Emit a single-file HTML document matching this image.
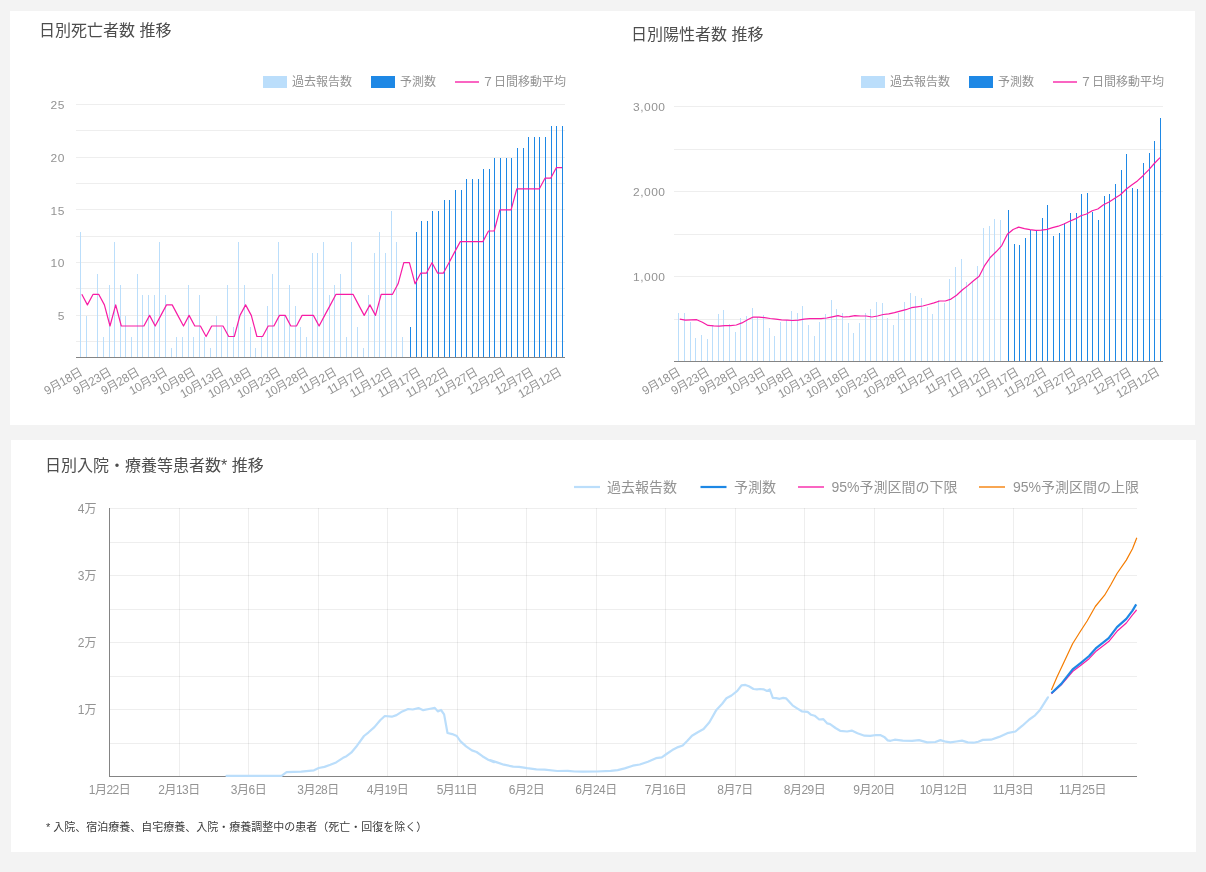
<!DOCTYPE html>
<html lang="ja"><head><meta charset="utf-8"><title>COVID-19 感染予測</title>
<style>
html,body{margin:0;padding:0}
body{width:1206px;height:872px;background:#f3f3f3;position:relative;overflow:hidden;font-family:"Liberation Sans","Noto Sans CJK JP",sans-serif}
.panel{position:absolute;background:#fff}
#g{position:absolute;left:0;top:0}
#lb{position:absolute;left:0;top:0;width:1206px;height:872px;will-change:transform}
.t{position:absolute;white-space:nowrap;line-height:14px;font-size:12px;color:#939393;font-family:"Liberation Sans","Noto Sans CJK JP",sans-serif}
.yl{text-align:right}
.yn{letter-spacing:.5px;transform:scaleY(.93);transform-origin:100% 50%}
.xr{transform-origin:100% 0;transform:rotate(-30deg);letter-spacing:-.5px}
.xc{width:100px;text-align:center;letter-spacing:-.5px}
.lg{font-size:12px}
.lg3{font-size:14px;line-height:16px}
.ti{font-size:16px;line-height:18px;color:#4d4d4d}
.ft{font-size:11px;line-height:13px;color:#3c3c3c}
</style></head><body>
<div class="panel" style="left:10px;top:11px;width:1185px;height:414px"></div>
<div class="panel" style="left:11px;top:440px;width:1185px;height:412px"></div>
<svg id="g" width="1206" height="872" viewBox="0 0 1206 872">
<rect x="76" y="104" width="489" height="1" fill="#000" fill-opacity=".067"/>
<rect x="76" y="130" width="489" height="1" fill="#000" fill-opacity=".067"/>
<rect x="76" y="157" width="489" height="1" fill="#000" fill-opacity=".067"/>
<rect x="76" y="183" width="489" height="1" fill="#000" fill-opacity=".067"/>
<rect x="76" y="209" width="489" height="1" fill="#000" fill-opacity=".067"/>
<rect x="76" y="236" width="489" height="1" fill="#000" fill-opacity=".067"/>
<rect x="76" y="262" width="489" height="1" fill="#000" fill-opacity=".067"/>
<rect x="76" y="288" width="489" height="1" fill="#000" fill-opacity=".067"/>
<rect x="76" y="315" width="489" height="1" fill="#000" fill-opacity=".067"/>
<rect x="76" y="341" width="489" height="1" fill="#000" fill-opacity=".067"/>
<rect x="80" y="232" width="1" height="125" fill="#bbdefb"/>
<rect x="86" y="316" width="1" height="41" fill="#bbdefb"/>
<rect x="97" y="274" width="1" height="83" fill="#bbdefb"/>
<rect x="103" y="337" width="1" height="20" fill="#bbdefb"/>
<rect x="109" y="285" width="1" height="72" fill="#bbdefb"/>
<rect x="114" y="242" width="1" height="115" fill="#bbdefb"/>
<rect x="120" y="285" width="1" height="72" fill="#bbdefb"/>
<rect x="125" y="316" width="1" height="41" fill="#bbdefb"/>
<rect x="131" y="337" width="1" height="20" fill="#bbdefb"/>
<rect x="137" y="274" width="1" height="83" fill="#bbdefb"/>
<rect x="142" y="295" width="1" height="62" fill="#bbdefb"/>
<rect x="148" y="295" width="1" height="62" fill="#bbdefb"/>
<rect x="154" y="295" width="1" height="62" fill="#bbdefb"/>
<rect x="159" y="242" width="1" height="115" fill="#bbdefb"/>
<rect x="165" y="295" width="1" height="62" fill="#bbdefb"/>
<rect x="171" y="348" width="1" height="9" fill="#bbdefb"/>
<rect x="176" y="337" width="1" height="20" fill="#bbdefb"/>
<rect x="182" y="337" width="1" height="20" fill="#bbdefb"/>
<rect x="188" y="285" width="1" height="72" fill="#bbdefb"/>
<rect x="193" y="337" width="1" height="20" fill="#bbdefb"/>
<rect x="199" y="295" width="1" height="62" fill="#bbdefb"/>
<rect x="204" y="337" width="1" height="20" fill="#bbdefb"/>
<rect x="210" y="348" width="1" height="9" fill="#bbdefb"/>
<rect x="216" y="316" width="1" height="41" fill="#bbdefb"/>
<rect x="221" y="327" width="1" height="30" fill="#bbdefb"/>
<rect x="227" y="285" width="1" height="72" fill="#bbdefb"/>
<rect x="233" y="327" width="1" height="30" fill="#bbdefb"/>
<rect x="238" y="242" width="1" height="115" fill="#bbdefb"/>
<rect x="244" y="285" width="1" height="72" fill="#bbdefb"/>
<rect x="250" y="327" width="1" height="30" fill="#bbdefb"/>
<rect x="255" y="348" width="1" height="9" fill="#bbdefb"/>
<rect x="261" y="337" width="1" height="20" fill="#bbdefb"/>
<rect x="267" y="306" width="1" height="51" fill="#bbdefb"/>
<rect x="272" y="274" width="1" height="83" fill="#bbdefb"/>
<rect x="278" y="242" width="1" height="115" fill="#bbdefb"/>
<rect x="284" y="316" width="1" height="41" fill="#bbdefb"/>
<rect x="289" y="285" width="1" height="72" fill="#bbdefb"/>
<rect x="295" y="306" width="1" height="51" fill="#bbdefb"/>
<rect x="300" y="327" width="1" height="30" fill="#bbdefb"/>
<rect x="306" y="337" width="1" height="20" fill="#bbdefb"/>
<rect x="312" y="253" width="1" height="104" fill="#bbdefb"/>
<rect x="317" y="253" width="1" height="104" fill="#bbdefb"/>
<rect x="323" y="242" width="1" height="115" fill="#bbdefb"/>
<rect x="329" y="295" width="1" height="62" fill="#bbdefb"/>
<rect x="334" y="285" width="1" height="72" fill="#bbdefb"/>
<rect x="340" y="274" width="1" height="83" fill="#bbdefb"/>
<rect x="346" y="337" width="1" height="20" fill="#bbdefb"/>
<rect x="351" y="242" width="1" height="115" fill="#bbdefb"/>
<rect x="357" y="327" width="1" height="30" fill="#bbdefb"/>
<rect x="363" y="348" width="1" height="9" fill="#bbdefb"/>
<rect x="368" y="295" width="1" height="62" fill="#bbdefb"/>
<rect x="374" y="253" width="1" height="104" fill="#bbdefb"/>
<rect x="379" y="232" width="1" height="125" fill="#bbdefb"/>
<rect x="385" y="253" width="1" height="104" fill="#bbdefb"/>
<rect x="391" y="211" width="1" height="146" fill="#bbdefb"/>
<rect x="396" y="242" width="1" height="115" fill="#bbdefb"/>
<rect x="402" y="337" width="1" height="20" fill="#bbdefb"/>
<rect x="410" y="327" width="1" height="30" fill="#1e88e5"/>
<rect x="416" y="232" width="1" height="125" fill="#1e88e5"/>
<rect x="421" y="221" width="1" height="136" fill="#1e88e5"/>
<rect x="427" y="221" width="1" height="136" fill="#1e88e5"/>
<rect x="432" y="211" width="1" height="146" fill="#1e88e5"/>
<rect x="438" y="211" width="1" height="146" fill="#1e88e5"/>
<rect x="444" y="200" width="1" height="157" fill="#1e88e5"/>
<rect x="449" y="200" width="1" height="157" fill="#1e88e5"/>
<rect x="455" y="190" width="1" height="167" fill="#1e88e5"/>
<rect x="461" y="190" width="1" height="167" fill="#1e88e5"/>
<rect x="466" y="179" width="1" height="178" fill="#1e88e5"/>
<rect x="472" y="179" width="1" height="178" fill="#1e88e5"/>
<rect x="478" y="179" width="1" height="178" fill="#1e88e5"/>
<rect x="483" y="169" width="1" height="188" fill="#1e88e5"/>
<rect x="489" y="169" width="1" height="188" fill="#1e88e5"/>
<rect x="494" y="158" width="1" height="199" fill="#1e88e5"/>
<rect x="500" y="158" width="1" height="199" fill="#1e88e5"/>
<rect x="506" y="158" width="1" height="199" fill="#1e88e5"/>
<rect x="511" y="158" width="1" height="199" fill="#1e88e5"/>
<rect x="517" y="148" width="1" height="209" fill="#1e88e5"/>
<rect x="523" y="148" width="1" height="209" fill="#1e88e5"/>
<rect x="528" y="137" width="1" height="220" fill="#1e88e5"/>
<rect x="534" y="137" width="1" height="220" fill="#1e88e5"/>
<rect x="539" y="137" width="1" height="220" fill="#1e88e5"/>
<rect x="545" y="137" width="1" height="220" fill="#1e88e5"/>
<rect x="551" y="126" width="1" height="231" fill="#1e88e5"/>
<rect x="556" y="126" width="1" height="231" fill="#1e88e5"/>
<rect x="562" y="126" width="1" height="231" fill="#1e88e5"/>
<rect x="76" y="357" width="489" height="1" fill="#848484"/>
<polyline points="81.8,294.3 87.4,304.9 93.1,294.3 98.7,294.3 104.4,304.9 110.0,326.0 115.7,304.9 121.3,326.0 127.0,326.0 132.6,326.0 138.3,326.0 143.9,326.0 149.6,315.4 155.2,326.0 160.9,315.4 166.5,304.9 172.2,304.9 177.8,315.4 183.5,326.0 189.1,315.4 194.8,326.0 200.4,326.0 206.1,336.5 211.7,326.0 217.4,326.0 223.0,326.0 228.7,336.5 234.3,336.5 240.0,315.4 245.6,304.9 251.3,315.4 256.9,336.5 262.6,336.5 268.2,326.0 273.9,326.0 279.5,315.4 285.2,315.4 290.8,326.0 296.5,326.0 302.1,315.4 307.8,315.4 313.4,315.4 319.1,326.0 324.7,315.4 330.4,304.9 336.0,294.3 341.7,294.3 347.3,294.3 353.0,294.3 358.6,304.9 364.2,315.4 369.9,304.9 375.5,315.4 381.2,294.3 386.8,294.3 392.5,294.3 398.1,283.8 403.8,262.7 409.4,262.7 415.1,283.8 420.7,273.2 426.4,273.2 432.0,262.7 437.7,273.2 443.3,273.2 449.0,262.7 454.6,252.1 460.3,241.6 465.9,241.6 471.6,241.6 477.2,241.6 482.9,241.6 488.5,231.0 494.2,231.0 499.8,209.9 505.5,209.9 511.1,209.9 516.8,188.8 522.4,188.8 528.1,188.8 533.7,188.8 539.4,188.8 545.0,178.2 550.7,178.2 556.3,167.7 562.0,167.7" fill="none" stroke="#f71ca5" stroke-width="1.2" stroke-linejoin="round"/>
<rect x="674" y="106" width="489" height="1" fill="#000" fill-opacity=".067"/>
<rect x="674" y="149" width="489" height="1" fill="#000" fill-opacity=".067"/>
<rect x="674" y="191" width="489" height="1" fill="#000" fill-opacity=".067"/>
<rect x="674" y="234" width="489" height="1" fill="#000" fill-opacity=".067"/>
<rect x="674" y="276" width="489" height="1" fill="#000" fill-opacity=".067"/>
<rect x="674" y="319" width="489" height="1" fill="#000" fill-opacity=".067"/>
<rect x="678" y="313" width="1" height="48" fill="#bbdefb"/>
<rect x="684" y="313" width="1" height="48" fill="#bbdefb"/>
<rect x="690" y="322" width="1" height="39" fill="#bbdefb"/>
<rect x="695" y="338" width="1" height="23" fill="#bbdefb"/>
<rect x="701" y="335" width="1" height="26" fill="#bbdefb"/>
<rect x="707" y="339" width="1" height="22" fill="#bbdefb"/>
<rect x="712" y="325" width="1" height="36" fill="#bbdefb"/>
<rect x="718" y="314" width="1" height="47" fill="#bbdefb"/>
<rect x="723" y="310" width="1" height="51" fill="#bbdefb"/>
<rect x="729" y="324" width="1" height="37" fill="#bbdefb"/>
<rect x="735" y="332" width="1" height="29" fill="#bbdefb"/>
<rect x="740" y="318" width="1" height="43" fill="#bbdefb"/>
<rect x="746" y="316" width="1" height="45" fill="#bbdefb"/>
<rect x="752" y="308" width="1" height="53" fill="#bbdefb"/>
<rect x="757" y="317" width="1" height="44" fill="#bbdefb"/>
<rect x="763" y="315" width="1" height="46" fill="#bbdefb"/>
<rect x="769" y="328" width="1" height="33" fill="#bbdefb"/>
<rect x="774" y="336" width="1" height="25" fill="#bbdefb"/>
<rect x="780" y="322" width="1" height="39" fill="#bbdefb"/>
<rect x="786" y="320" width="1" height="41" fill="#bbdefb"/>
<rect x="791" y="311" width="1" height="50" fill="#bbdefb"/>
<rect x="797" y="313" width="1" height="48" fill="#bbdefb"/>
<rect x="802" y="306" width="1" height="55" fill="#bbdefb"/>
<rect x="808" y="325" width="1" height="36" fill="#bbdefb"/>
<rect x="814" y="336" width="1" height="25" fill="#bbdefb"/>
<rect x="819" y="322" width="1" height="39" fill="#bbdefb"/>
<rect x="825" y="314" width="1" height="47" fill="#bbdefb"/>
<rect x="831" y="300" width="1" height="61" fill="#bbdefb"/>
<rect x="836" y="309" width="1" height="52" fill="#bbdefb"/>
<rect x="842" y="313" width="1" height="48" fill="#bbdefb"/>
<rect x="848" y="323" width="1" height="38" fill="#bbdefb"/>
<rect x="853" y="333" width="1" height="28" fill="#bbdefb"/>
<rect x="859" y="323" width="1" height="38" fill="#bbdefb"/>
<rect x="865" y="313" width="1" height="48" fill="#bbdefb"/>
<rect x="870" y="309" width="1" height="52" fill="#bbdefb"/>
<rect x="876" y="302" width="1" height="59" fill="#bbdefb"/>
<rect x="882" y="303" width="1" height="58" fill="#bbdefb"/>
<rect x="887" y="318" width="1" height="43" fill="#bbdefb"/>
<rect x="893" y="325" width="1" height="36" fill="#bbdefb"/>
<rect x="898" y="313" width="1" height="48" fill="#bbdefb"/>
<rect x="904" y="302" width="1" height="59" fill="#bbdefb"/>
<rect x="910" y="293" width="1" height="68" fill="#bbdefb"/>
<rect x="915" y="296" width="1" height="65" fill="#bbdefb"/>
<rect x="921" y="298" width="1" height="63" fill="#bbdefb"/>
<rect x="927" y="307" width="1" height="54" fill="#bbdefb"/>
<rect x="932" y="314" width="1" height="47" fill="#bbdefb"/>
<rect x="938" y="300" width="1" height="61" fill="#bbdefb"/>
<rect x="944" y="303" width="1" height="58" fill="#bbdefb"/>
<rect x="949" y="279" width="1" height="82" fill="#bbdefb"/>
<rect x="955" y="267" width="1" height="94" fill="#bbdefb"/>
<rect x="961" y="259" width="1" height="102" fill="#bbdefb"/>
<rect x="966" y="282" width="1" height="79" fill="#bbdefb"/>
<rect x="972" y="282" width="1" height="79" fill="#bbdefb"/>
<rect x="977" y="266" width="1" height="95" fill="#bbdefb"/>
<rect x="983" y="228" width="1" height="133" fill="#bbdefb"/>
<rect x="989" y="226" width="1" height="135" fill="#bbdefb"/>
<rect x="994" y="219" width="1" height="142" fill="#bbdefb"/>
<rect x="1000" y="220" width="1" height="141" fill="#bbdefb"/>
<rect x="1008" y="210" width="1" height="151" fill="#1e88e5"/>
<rect x="1014" y="244" width="1" height="117" fill="#1e88e5"/>
<rect x="1019" y="245" width="1" height="116" fill="#1e88e5"/>
<rect x="1025" y="238" width="1" height="123" fill="#1e88e5"/>
<rect x="1030" y="230" width="1" height="131" fill="#1e88e5"/>
<rect x="1036" y="230" width="1" height="131" fill="#1e88e5"/>
<rect x="1042" y="218" width="1" height="143" fill="#1e88e5"/>
<rect x="1047" y="205" width="1" height="156" fill="#1e88e5"/>
<rect x="1053" y="236" width="1" height="125" fill="#1e88e5"/>
<rect x="1059" y="233" width="1" height="128" fill="#1e88e5"/>
<rect x="1064" y="223" width="1" height="138" fill="#1e88e5"/>
<rect x="1070" y="213" width="1" height="148" fill="#1e88e5"/>
<rect x="1076" y="213" width="1" height="148" fill="#1e88e5"/>
<rect x="1081" y="194" width="1" height="167" fill="#1e88e5"/>
<rect x="1087" y="193" width="1" height="168" fill="#1e88e5"/>
<rect x="1092" y="212" width="1" height="149" fill="#1e88e5"/>
<rect x="1098" y="220" width="1" height="141" fill="#1e88e5"/>
<rect x="1104" y="196" width="1" height="165" fill="#1e88e5"/>
<rect x="1109" y="194" width="1" height="167" fill="#1e88e5"/>
<rect x="1115" y="184" width="1" height="177" fill="#1e88e5"/>
<rect x="1121" y="170" width="1" height="191" fill="#1e88e5"/>
<rect x="1126" y="154" width="1" height="207" fill="#1e88e5"/>
<rect x="1132" y="188" width="1" height="173" fill="#1e88e5"/>
<rect x="1137" y="189" width="1" height="172" fill="#1e88e5"/>
<rect x="1143" y="163" width="1" height="198" fill="#1e88e5"/>
<rect x="1149" y="153" width="1" height="208" fill="#1e88e5"/>
<rect x="1154" y="141" width="1" height="220" fill="#1e88e5"/>
<rect x="1160" y="118" width="1" height="243" fill="#1e88e5"/>
<rect x="674" y="361" width="489" height="1" fill="#848484"/>
<polyline points="679.8,319.1 685.4,320.1 691.1,319.8 696.7,319.7 702.4,322.2 708.0,325.4 713.7,325.9 719.3,326.2 725.0,325.6 730.6,325.6 736.3,325.0 741.9,322.9 747.6,319.7 753.2,317.0 758.9,317.2 764.5,317.7 770.2,318.5 775.8,319.1 781.5,319.8 787.1,320.2 792.8,320.5 798.4,320.2 804.1,319.1 809.7,318.7 815.4,318.7 821.0,318.7 826.7,318.0 832.3,316.8 838.0,315.7 843.6,317.0 849.3,316.6 854.9,315.6 860.6,316.0 866.2,316.0 871.9,317.0 877.5,316.0 883.2,314.5 888.8,313.9 894.5,312.7 900.1,311.2 905.8,309.7 911.4,307.7 917.1,306.8 922.7,306.0 928.4,304.5 934.0,302.9 939.7,301.0 945.3,301.0 951.0,299.1 956.6,295.2 962.2,290.0 967.9,285.6 973.5,280.7 979.2,276.3 984.8,265.3 990.5,257.2 996.1,251.8 1001.8,245.6 1007.4,234.3 1013.1,229.5 1018.7,227.1 1024.4,228.6 1030.0,229.7 1035.7,230.4 1041.3,230.1 1047.0,229.3 1052.6,227.7 1058.3,226.2 1063.9,224.0 1069.6,221.3 1075.2,218.9 1080.9,215.7 1086.5,214.0 1092.2,210.8 1097.8,209.0 1103.5,204.8 1109.1,202.0 1114.8,198.3 1120.4,194.7 1126.1,189.2 1131.7,185.1 1137.4,180.9 1143.0,175.7 1148.7,169.9 1154.3,163.5 1160.0,157.6" fill="none" stroke="#f71ca5" stroke-width="1.2" stroke-linejoin="round"/>
<rect x="109" y="508" width="1028" height="1" fill="#000" fill-opacity=".067"/>
<rect x="109" y="542" width="1028" height="1" fill="#000" fill-opacity=".067"/>
<rect x="109" y="575" width="1028" height="1" fill="#000" fill-opacity=".067"/>
<rect x="109" y="609" width="1028" height="1" fill="#000" fill-opacity=".067"/>
<rect x="109" y="642" width="1028" height="1" fill="#000" fill-opacity=".067"/>
<rect x="109" y="676" width="1028" height="1" fill="#000" fill-opacity=".067"/>
<rect x="109" y="709" width="1028" height="1" fill="#000" fill-opacity=".067"/>
<rect x="109" y="743" width="1028" height="1" fill="#000" fill-opacity=".067"/>
<rect x="179" y="508" width="1" height="268" fill="#000" fill-opacity=".067"/>
<rect x="248" y="508" width="1" height="268" fill="#000" fill-opacity=".067"/>
<rect x="318" y="508" width="1" height="268" fill="#000" fill-opacity=".067"/>
<rect x="387" y="508" width="1" height="268" fill="#000" fill-opacity=".067"/>
<rect x="457" y="508" width="1" height="268" fill="#000" fill-opacity=".067"/>
<rect x="526" y="508" width="1" height="268" fill="#000" fill-opacity=".067"/>
<rect x="596" y="508" width="1" height="268" fill="#000" fill-opacity=".067"/>
<rect x="665" y="508" width="1" height="268" fill="#000" fill-opacity=".067"/>
<rect x="735" y="508" width="1" height="268" fill="#000" fill-opacity=".067"/>
<rect x="804" y="508" width="1" height="268" fill="#000" fill-opacity=".067"/>
<rect x="874" y="508" width="1" height="268" fill="#000" fill-opacity=".067"/>
<rect x="943" y="508" width="1" height="268" fill="#000" fill-opacity=".067"/>
<rect x="1013" y="508" width="1" height="268" fill="#000" fill-opacity=".067"/>
<rect x="1082" y="508" width="1" height="268" fill="#000" fill-opacity=".067"/>
<rect x="109" y="508" width="1" height="269" fill="#848484"/>
<rect x="109" y="776" width="1028" height="1" fill="#848484"/>
<polyline points="226.5,775.9 281.5,775.9 286.6,772.2 301.3,771.7 314.0,770.3 318.7,768.0 324.5,766.9 330.3,764.8 336.1,762.4 343.1,757.8 346.5,756.2 351.2,752.7 357.0,745.7 364.0,736.0 368.6,732.3 374.4,727.1 380.2,720.2 384.8,716.0 391.8,716.7 396.5,715.1 402.3,711.4 408.1,709.0 412.7,709.5 418.5,708.1 423.2,710.2 429.0,709.0 434.8,707.9 437.8,711.4 441.0,710.0 444.1,714.4 447.5,733.0 452.2,734.1 456.8,736.0 460.3,741.1 466.1,746.4 471.9,750.4 476.6,752.0 482.4,756.2 488.2,759.7 494.0,762.2 490.0,760.1 497.0,762.4 503.9,764.7 513.2,766.6 519.0,766.8 527.1,768.2 536.4,769.4 544.6,769.6 557.3,771.0 567.8,770.8 574.7,771.5 582.9,771.7 596.8,771.5 610.7,770.8 617.7,770.1 624.7,768.4 632.8,765.7 639.8,764.5 647.9,761.7 656.0,758.2 661.8,757.3 666.5,754.0 672.3,750.1 678.1,747.1 682.7,745.5 687.4,740.8 692.0,735.7 697.8,732.2 703.6,729.0 709.4,722.2 716.4,709.9 722.2,703.7 726.4,698.3 731.5,695.5 737.3,690.9 741.5,685.3 745.4,684.9 748.9,686.3 753.5,689.0 757.0,689.3 760.0,689.0 763.5,689.3 767.0,690.9 769.8,689.5 772.8,697.9 776.3,698.1 779.7,698.8 783.2,697.9 786.0,698.3 792.5,705.3 797.1,708.3 801.8,711.3 807.6,711.8 811.1,714.8 814.6,715.7 819.2,719.5 823.4,719.2 827.3,723.4 830.1,724.1 835.5,728.0 840.1,730.8 847.1,731.5 851.7,730.6 857.5,733.2 864.5,735.7 870.3,735.9 876.1,735.0 880.7,735.2 884.2,736.9 887.7,740.4 890.5,740.8 894.7,739.7 902.8,740.6 912.1,740.8 919.0,740.1 927.2,742.4 935.3,742.0 940.4,740.1 945.7,741.7 950.4,742.4 956.2,741.5 962.0,740.6 967.8,742.4 973.6,742.7 978.2,741.7 982.9,739.9 991.0,739.7 999.1,736.9 1007.3,733.2 1015.4,731.5 1022.4,725.7 1029.3,719.5 1035.1,715.3 1040.0,709.9 1047.9,697.3" fill="none" stroke="#bbdefb" stroke-width="2.2" stroke-linejoin="round" stroke-linecap="round"/>
<polyline points="1051.4,690.1 1057.1,676.7 1064.4,661.2 1072.6,643.7 1079.8,632.3 1087.1,621.0 1095.3,606.5 1104.6,595.2 1110.8,584.8 1117.0,573.5 1126.3,560.1 1132.5,548.7 1136.8,537.8" fill="none" stroke="#f57c00" stroke-width="1.2" stroke-linejoin="round"/>
<polyline points="1051.4,693.8 1061.3,684.9 1072.6,671.5 1080.9,665.3 1089.1,658.7 1096.4,650.9 1108.7,641.6 1117.0,631.3 1126.3,623.0 1132.5,614.8 1136.6,610.0" fill="none" stroke="#f71ca5" stroke-width="1.2" stroke-linejoin="round"/>
<polyline points="1051.4,693.2 1061.3,683.9 1072.6,669.4 1080.9,662.8 1089.1,656.0 1096.4,647.8 1108.7,638.1 1117.0,627.1 1126.3,618.9 1132.5,610.6 1136.2,604.4" fill="none" stroke="#1e88e5" stroke-width="2.2" stroke-linejoin="round"/>
<rect x="263" y="76" width="24" height="12" fill="#bbdefb"/>
<rect x="371" y="76" width="24" height="12" fill="#1e88e5"/>
<rect x="455" y="81" width="24" height="2" fill="#f71ca5" opacity=".68"/>
<rect x="861" y="76" width="24" height="12" fill="#bbdefb"/>
<rect x="969" y="76" width="24" height="12" fill="#1e88e5"/>
<rect x="1053" y="81" width="24" height="2" fill="#f71ca5" opacity=".68"/>
<rect x="574" y="485.9" width="26" height="2.2" fill="#bbdefb" opacity="1"/>
<rect x="700.5" y="485.9" width="26" height="2.2" fill="#1e88e5" opacity="1"/>
<rect x="798" y="486.0" width="26" height="2" fill="#f71ca5" opacity="0.68"/>
<rect x="979" y="486.0" width="26" height="2" fill="#f57c00" opacity="0.68"/>
</svg>
<div id="lb">
<div class="t yl yn" style="right:1141.1px;top:98.0px">25</div>
<div class="t yl yn" style="right:1141.1px;top:150.8px">20</div>
<div class="t yl yn" style="right:1141.1px;top:203.5px">15</div>
<div class="t yl yn" style="right:1141.1px;top:256.2px">10</div>
<div class="t yl yn" style="right:1141.1px;top:309.0px">5</div>
<div class="t xr" style="right:1128.0px;top:364.5px">9月18日</div>
<div class="t xr" style="right:1099.8px;top:364.5px">9月23日</div>
<div class="t xr" style="right:1071.7px;top:364.5px">9月28日</div>
<div class="t xr" style="right:1043.5px;top:364.5px">10月3日</div>
<div class="t xr" style="right:1015.3px;top:364.5px">10月8日</div>
<div class="t xr" style="right:987.1px;top:364.5px">10月13日</div>
<div class="t xr" style="right:959.0px;top:364.5px">10月18日</div>
<div class="t xr" style="right:930.8px;top:364.5px">10月23日</div>
<div class="t xr" style="right:902.6px;top:364.5px">10月28日</div>
<div class="t xr" style="right:874.5px;top:364.5px">11月2日</div>
<div class="t xr" style="right:846.3px;top:364.5px">11月7日</div>
<div class="t xr" style="right:818.1px;top:364.5px">11月12日</div>
<div class="t xr" style="right:790.0px;top:364.5px">11月17日</div>
<div class="t xr" style="right:761.8px;top:364.5px">11月22日</div>
<div class="t xr" style="right:733.6px;top:364.5px">11月27日</div>
<div class="t xr" style="right:705.5px;top:364.5px">12月2日</div>
<div class="t xr" style="right:677.3px;top:364.5px">12月7日</div>
<div class="t xr" style="right:649.1px;top:364.5px">12月12日</div>
<div class="t yl yn" style="right:540.5px;top:100.0px">3,000</div>
<div class="t yl yn" style="right:540.5px;top:185.0px">2,000</div>
<div class="t yl yn" style="right:540.5px;top:270.0px">1,000</div>
<div class="t xr" style="right:530.0px;top:364.5px">9月18日</div>
<div class="t xr" style="right:501.8px;top:364.5px">9月23日</div>
<div class="t xr" style="right:473.7px;top:364.5px">9月28日</div>
<div class="t xr" style="right:445.5px;top:364.5px">10月3日</div>
<div class="t xr" style="right:417.3px;top:364.5px">10月8日</div>
<div class="t xr" style="right:389.1px;top:364.5px">10月13日</div>
<div class="t xr" style="right:361.0px;top:364.5px">10月18日</div>
<div class="t xr" style="right:332.8px;top:364.5px">10月23日</div>
<div class="t xr" style="right:304.6px;top:364.5px">10月28日</div>
<div class="t xr" style="right:276.5px;top:364.5px">11月2日</div>
<div class="t xr" style="right:248.3px;top:364.5px">11月7日</div>
<div class="t xr" style="right:220.1px;top:364.5px">11月12日</div>
<div class="t xr" style="right:192.0px;top:364.5px">11月17日</div>
<div class="t xr" style="right:163.8px;top:364.5px">11月22日</div>
<div class="t xr" style="right:135.6px;top:364.5px">11月27日</div>
<div class="t xr" style="right:107.5px;top:364.5px">12月2日</div>
<div class="t xr" style="right:79.3px;top:364.5px">12月7日</div>
<div class="t xr" style="right:51.1px;top:364.5px">12月12日</div>
<div class="t yl" style="right:1109.5px;top:501.5px">4万</div>
<div class="t yl" style="right:1109.5px;top:568.5px">3万</div>
<div class="t yl" style="right:1109.5px;top:635.5px">2万</div>
<div class="t yl" style="right:1109.5px;top:702.5px">1万</div>
<div class="t xc" style="left:59.5px;top:783px">1月22日</div>
<div class="t xc" style="left:129.0px;top:783px">2月13日</div>
<div class="t xc" style="left:198.5px;top:783px">3月6日</div>
<div class="t xc" style="left:268.0px;top:783px">3月28日</div>
<div class="t xc" style="left:337.5px;top:783px">4月19日</div>
<div class="t xc" style="left:407.0px;top:783px">5月11日</div>
<div class="t xc" style="left:476.5px;top:783px">6月2日</div>
<div class="t xc" style="left:546.0px;top:783px">6月24日</div>
<div class="t xc" style="left:615.5px;top:783px">7月16日</div>
<div class="t xc" style="left:685.0px;top:783px">8月7日</div>
<div class="t xc" style="left:754.5px;top:783px">8月29日</div>
<div class="t xc" style="left:824.0px;top:783px">9月20日</div>
<div class="t xc" style="left:893.5px;top:783px">10月12日</div>
<div class="t xc" style="left:963.0px;top:783px">11月3日</div>
<div class="t xc" style="left:1032.5px;top:783px">11月25日</div>
<div class="t lg" style="left:292px;top:75px">過去報告数</div>
<div class="t lg" style="left:400px;top:75px">予測数</div>
<div class="t lg" style="left:482px;top:75px">７日間移動平均</div>
<div class="t lg" style="left:890px;top:75px">過去報告数</div>
<div class="t lg" style="left:998px;top:75px">予測数</div>
<div class="t lg" style="left:1080px;top:75px">７日間移動平均</div>
<div class="t lg3" style="left:607px;top:479px">過去報告数</div>
<div class="t lg3" style="left:734px;top:479px">予測数</div>
<div class="t lg3" style="left:831.5px;top:479px">95%予測区間の下限</div>
<div class="t lg3" style="left:1013px;top:479px">95%予測区間の上限</div>
<div class="t ti" style="left:39px;top:22px">日別死亡者数 推移</div>
<div class="t ti" style="left:631px;top:26px">日別陽性者数 推移</div>
<div class="t ti" style="left:45px;top:457px">日別入院・療養等患者数* 推移</div>
<div class="t ft" style="left:46px;top:821px">* 入院、宿泊療養、自宅療養、入院・療養調整中の患者（死亡・回復を除く）</div>
</div>
</body></html>
